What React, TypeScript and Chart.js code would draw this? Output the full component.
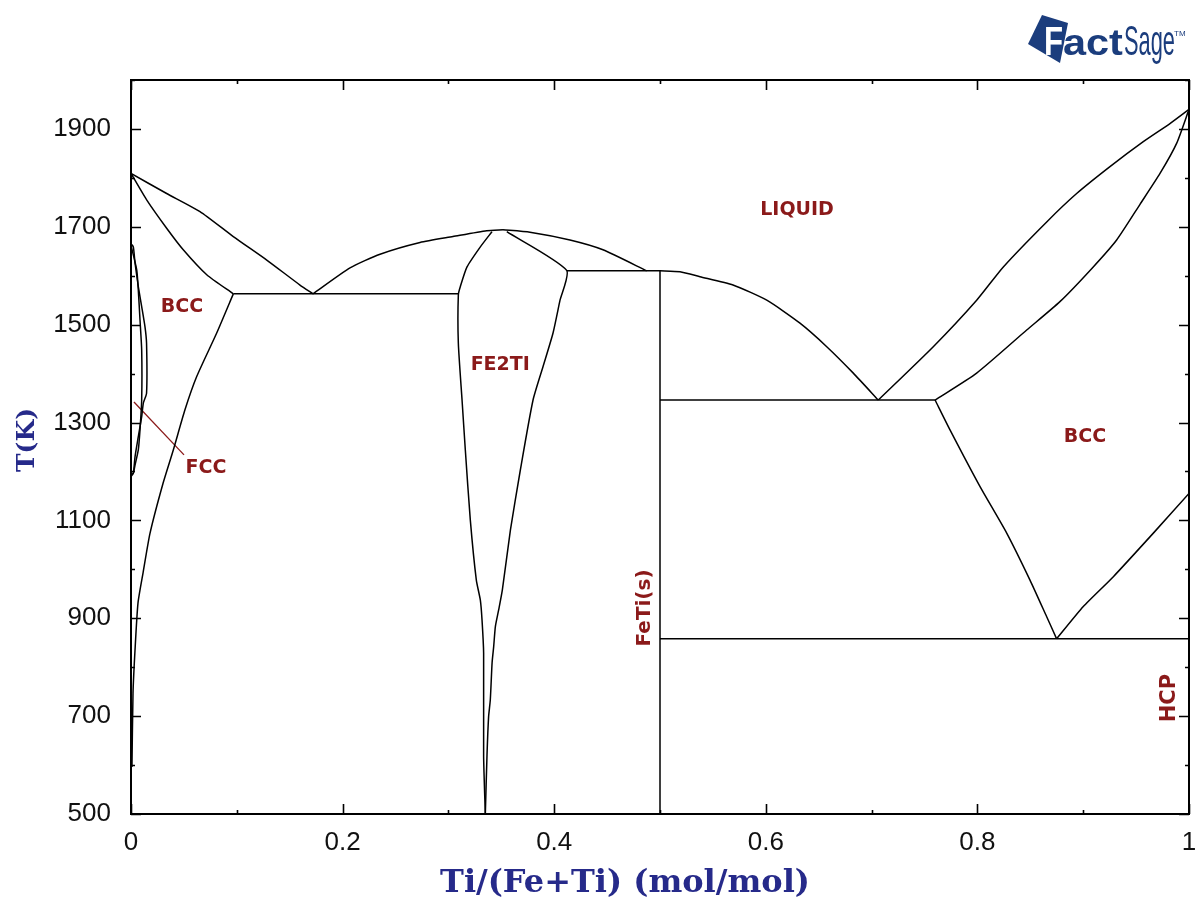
import React, { useEffect, useRef } from 'react';
import { Chart, registerables } from 'chart.js';

Chart.register(...registerables);

// ---------- axis ticks ----------
const xMajorTicks = [0, 0.2, 0.4, 0.6, 0.8, 1];
const xMinorTicks = [0.1, 0.3, 0.5, 0.7, 0.9];
const yMajorTicks = [500, 700, 900, 1100, 1300, 1500, 1700, 1900];
const yMinorTicks = [600, 800, 1000, 1200, 1400, 1600, 1800, 2000];

// ---------- axis titles ----------
const xTitle = 'Ti/(Fe+Ti) (mol/mol)';
const yTitle = 'T(K)';

// ---------- phase boundaries (x = Ti/(Fe+Ti), T in K) ----------
const feLiquidusX = [0, 0.0337, 0.0652, 0.0967, 0.1283, 0.1597, 0.172];
const feLiquidusT = [1809, 1768, 1731, 1680, 1632, 1581, 1563];

const bccSolidusX = [0, 0.0148, 0.0337, 0.0494, 0.0716, 0.0967];
const bccSolidusT = [1809, 1755, 1697, 1653, 1602, 1563];

const eutectic1X = [0.0967, 0.3094];
const eutectic1T = [1563, 1563];

const bccSolvusX = [0.0967, 0.081, 0.0621, 0.051, 0.04, 0.0303, 0.018, 0.0114, 0.0066, 0.0038, 0.0019, 0.0009];
const bccSolvusT = [1563, 1483, 1394, 1326, 1244, 1176, 1074, 993, 931, 835, 747, 596];

const fe2tiLiqLeftX = [0.172, 0.207, 0.2354, 0.2732, 0.3043, 0.3362, 0.3516];
const fe2tiLiqLeftT = [1563, 1616, 1644, 1668, 1680, 1692, 1694];

const fe2tiLiqRightX = [0.3516, 0.3771, 0.4149, 0.4461, 0.4874];
const fe2tiLiqRightT = [1694, 1689, 1673, 1653, 1610];

const fe2tiLeftX = [0.3412, 0.3302, 0.3176, 0.3113, 0.3094, 0.3094, 0.3129, 0.316, 0.3207, 0.3264, 0.3302, 0.3318, 0.3333, 0.3333, 0.3349];
const fe2tiLeftT = [1690, 1659, 1618, 1578, 1561, 1462, 1346, 1244, 1101, 978, 937, 896, 829, 617, 500];

const fe2tiRightX = [0.3552, 0.4118, 0.4055, 0.3989, 0.3894, 0.38, 0.368, 0.3586, 0.351, 0.3475, 0.3444, 0.3428, 0.3413, 0.3396, 0.338, 0.3365, 0.3349];
const fe2tiRightT = [1690, 1611, 1550, 1483, 1414, 1346, 1203, 1080, 958, 917, 883, 842, 809, 733, 699, 621, 500];

const peritecticX = [0.4118, 0.5];
const peritecticT = [1610, 1610];

const fetiLiquidusX = [0.5, 0.5189, 0.5378, 0.569, 0.6009, 0.6323, 0.6576, 0.6827, 0.7063];
const fetiLiquidusT = [1610, 1608, 1598, 1581, 1550, 1503, 1455, 1401, 1346];

const fetiLineX = [0.5, 0.5];
const fetiLineT = [1610, 500];

const eutectic2X = [0.5, 0.76];
const eutectic2T = [1346, 1346];

const tiLiquidusX = [0.7063, 0.7583, 0.7993, 0.8245, 0.8655, 0.8938, 0.9253, 0.9568, 0.982, 1.0];
const tiLiquidusT = [1346, 1455, 1550, 1618, 1710, 1768, 1823, 1874, 1911, 1940];

const tiSolidusX = [0.76, 0.7993, 0.8466, 0.878, 0.9095, 0.9316, 0.9537, 0.9726, 0.9884, 1.0];
const tiSolidusT = [1346, 1401, 1489, 1547, 1618, 1673, 1746, 1809, 1871, 1940];

const bccFetiX = [0.76, 0.7741, 0.8025, 0.8277, 0.8497, 0.8655, 0.8749];
const bccFetiT = [1346, 1285, 1169, 1074, 978, 903, 858];

const eutectoidX = [0.5, 1.0];
const eutectoidT = [858, 858];

const betaTransusX = [0.8749, 0.9001, 0.9285, 0.9663, 1.0];
const betaTransusT = [858, 924, 985, 1074, 1155];

const gammaOuterX = [0, 0.0022, 0.0038, 0.0069, 0.0101, 0.0132, 0.0147, 0.0147, 0.0117, 0.0101, 0.0069, 0.0038, 0.0022, 0];
const gammaOuterT = [1665, 1659, 1626, 1578, 1537, 1496, 1462, 1360, 1340, 1312, 1271, 1230, 1196, 1190];

const gammaInnerX = [0, 0.0054, 0.0069, 0.0085, 0.0101, 0.0101, 0.0085, 0.0069, 0.0038, 0.0022, 0];
const gammaInnerT = [1662, 1612, 1571, 1510, 1448, 1346, 1285, 1244, 1213, 1197, 1193];

const fccPointerX = [0.0028, 0.0501];
const fccPointerT = [1342, 1234];

// ---------- phase labels ----------
const phaseLabels = ['LIQUID', 'BCC', 'FE2TI', 'FCC', 'BCC', 'FeTi(s)', 'HCP'];
const phaseLabelX = [0.6295, 0.0482, 0.349, 0.0709, 0.9017, 0.4858, 0.982];
const phaseLabelT = [1734, 1536, 1418, 1207, 1270, 921, 737];
const phaseLabelVertical = [false, false, false, false, false, true, true];

const BLACK = '#000000';
const LABEL_RED = '#8b1a1a';
const NAVY = '#262a8a';
const LOGO_BLUE = '#1b3d7d';

function pts(xs: number[], ts: number[]) {
  return xs.map((v, i) => ({ x: v, y: ts[i] }));
}

function line(xs: number[], ts: number[], curved: boolean, color = BLACK, width = 1.5) {
  return {
    data: pts(xs, ts),
    showLine: true,
    borderColor: color,
    backgroundColor: color,
    borderWidth: width,
    pointRadius: 0,
    pointHoverRadius: 0,
    tension: curved ? 0.2 : 0,
    fill: false,
  };
}

const decorPlugin = {
  id: 'decor',
  afterDatasetsDraw(chart: any) {
    const { ctx, chartArea: a, scales } = chart;
    const xs = scales.x;
    const ys = scales.y;
    ctx.save();
    // frame
    ctx.strokeStyle = BLACK;
    ctx.lineWidth = 2;
    ctx.strokeRect(a.left, a.top, a.right - a.left, a.bottom - a.top);
    // inward tick marks on all four sides
    ctx.lineWidth = 1.6;
    const xTick = (v: number, len: number) => {
      const px = Math.round(xs.getPixelForValue(v)) + 0.5;
      ctx.beginPath();
      ctx.moveTo(px, a.bottom);
      ctx.lineTo(px, a.bottom - len);
      ctx.moveTo(px, a.top);
      ctx.lineTo(px, a.top + len);
      ctx.stroke();
    };
    const yTick = (v: number, len: number) => {
      const py = Math.round(ys.getPixelForValue(v)) + 0.5;
      ctx.beginPath();
      ctx.moveTo(a.left, py);
      ctx.lineTo(a.left + len, py);
      ctx.moveTo(a.right, py);
      ctx.lineTo(a.right - len, py);
      ctx.stroke();
    };
    xMajorTicks.forEach((v) => xTick(v, 10));
    xMinorTicks.forEach((v) => xTick(v, 4));
    yMajorTicks.forEach((v) => yTick(v, 10));
    yMinorTicks.forEach((v) => yTick(v, 4));

    // phase labels
    ctx.fillStyle = LABEL_RED;
    ctx.textAlign = 'center';
    ctx.textBaseline = 'middle';
    phaseLabels.forEach((txt, i) => {
      const px = xs.getPixelForValue(phaseLabelX[i]);
      const py = ys.getPixelForValue(phaseLabelT[i]);
      const size = txt === 'HCP' ? 21 : txt === 'FeTi(s)' ? 20 : 19;
      ctx.font = `bold ${size}px "DejaVu Sans"`;
      ctx.save();
      ctx.translate(px, py);
      if (phaseLabelVertical[i]) ctx.rotate(-Math.PI / 2);
      ctx.fillText(txt, 0, 0);
      ctx.restore();
    });

    // axis titles
    ctx.fillStyle = NAVY;
    ctx.font = 'bold 32px "DejaVu Serif"';
    ctx.fillText(xTitle, 625, 884);
    ctx.save();
    ctx.translate(27, 440);
    ctx.rotate(-Math.PI / 2);
    ctx.font = 'bold 25px "DejaVu Serif"';
    ctx.fillText(yTitle, 0, 0);
    ctx.restore();
    ctx.restore();
  },
  afterDraw(chart: any) {
    const ctx = chart.ctx;
    ctx.save();
    // FactSage logo
    ctx.fillStyle = LOGO_BLUE;
    ctx.beginPath();
    ctx.moveTo(1028, 44);
    ctx.lineTo(1042, 15);
    ctx.lineTo(1068, 23);
    ctx.lineTo(1060, 63);
    ctx.closePath();
    ctx.fill();
    ctx.textBaseline = 'alphabetic';
    ctx.textAlign = 'left';
    ctx.font = 'bold 40px "Liberation Sans"';
    ctx.save();
    ctx.translate(1044, 55);
    ctx.scale(0.78, 1);
    ctx.fillStyle = '#ffffff';
    ctx.fillText('F', 0, 0);
    ctx.restore();
    ctx.fillStyle = LOGO_BLUE;
    ctx.font = 'bold 36px "Liberation Sans"';
    ctx.save();
    ctx.translate(1063, 55);
    ctx.scale(1.15, 1);
    ctx.fillText('act', 0, 0);
    ctx.restore();
    ctx.font = '42px "Liberation Sans"';
    ctx.save();
    ctx.translate(1124, 55);
    ctx.scale(0.52, 1);
    ctx.fillText('Sage', 0, 0);
    ctx.restore();
    ctx.font = '8px "Liberation Sans"';
    ctx.fillText('TM', 1174, 36);
    ctx.restore();
  },
};

export default function App() {
  const canvasRef = useRef<HTMLCanvasElement | null>(null);

  useEffect(() => {
    if (!canvasRef.current) return;
    const datasets = [
      line(feLiquidusX, feLiquidusT, true),
      line(bccSolidusX, bccSolidusT, true),
      line(eutectic1X, eutectic1T, false),
      line(bccSolvusX, bccSolvusT, true),
      line(fe2tiLiqLeftX, fe2tiLiqLeftT, true),
      line(fe2tiLiqRightX, fe2tiLiqRightT, true),
      line(fe2tiLeftX, fe2tiLeftT, true),
      line(fe2tiRightX, fe2tiRightT, true),
      line(peritecticX, peritecticT, false),
      line(fetiLiquidusX, fetiLiquidusT, true),
      line(fetiLineX, fetiLineT, false),
      line(eutectic2X, eutectic2T, false),
      line(tiLiquidusX, tiLiquidusT, true),
      line(tiSolidusX, tiSolidusT, true),
      line(bccFetiX, bccFetiT, true),
      line(eutectoidX, eutectoidT, false),
      line(betaTransusX, betaTransusT, true),
      line(gammaOuterX, gammaOuterT, true),
      line(gammaInnerX, gammaInnerT, true),
      line(fccPointerX, fccPointerT, false, LABEL_RED, 1.3),
    ];
    const chart = new Chart(canvasRef.current, {
      type: 'scatter',
      data: { datasets: datasets as any },
      plugins: [decorPlugin as any],
      options: {
        animation: false,
        responsive: false,
        events: [],
        layout: { padding: { top: 80, right: 7, left: 0, bottom: 0 } },
        plugins: {
          legend: { display: false },
          tooltip: { enabled: false },
        },
        scales: {
          x: {
            type: 'linear',
            min: 0,
            max: 1,
            afterFit: (s: any) => {
              s.height = 88;
              s.paddingLeft = 0;
              s.paddingRight = 0;
            },
            afterBuildTicks: (s: any) => {
              s.ticks = xMajorTicks.map((v) => ({ value: v }));
            },
            grid: { display: false, drawTicks: false },
            border: { display: false },
            ticks: {
              autoSkip: false,
              maxRotation: 0,
              padding: 13,
              color: '#111111',
              font: { family: '"Liberation Sans"', size: 26 },
              callback: (v: any) => String(Number(Number(v).toFixed(1))),
            },
            title: { display: false },
          },
          y: {
            type: 'linear',
            min: 500,
            max: 2000,
            afterFit: (s: any) => {
              s.width = 131;
              s.paddingTop = 0;
              s.paddingBottom = 0;
            },
            afterBuildTicks: (s: any) => {
              s.ticks = yMajorTicks.map((v) => ({ value: v }));
            },
            grid: { display: false, drawTicks: false },
            border: { display: false },
            ticks: {
              autoSkip: false,
              padding: 20,
              color: '#111111',
              font: { family: '"Liberation Sans"', size: 26 },
              callback: (v: any) => String(v),
            },
            title: { display: false },
          },
        },
      } as any,
    });
    return () => chart.destroy();
  }, []);

  return (
    <div style={{ position: 'fixed', left: 0, top: 0, width: 1196, height: 902, background: '#ffffff' }}>
      <canvas ref={canvasRef} width={1196} height={902} />
    </div>
  );
}
